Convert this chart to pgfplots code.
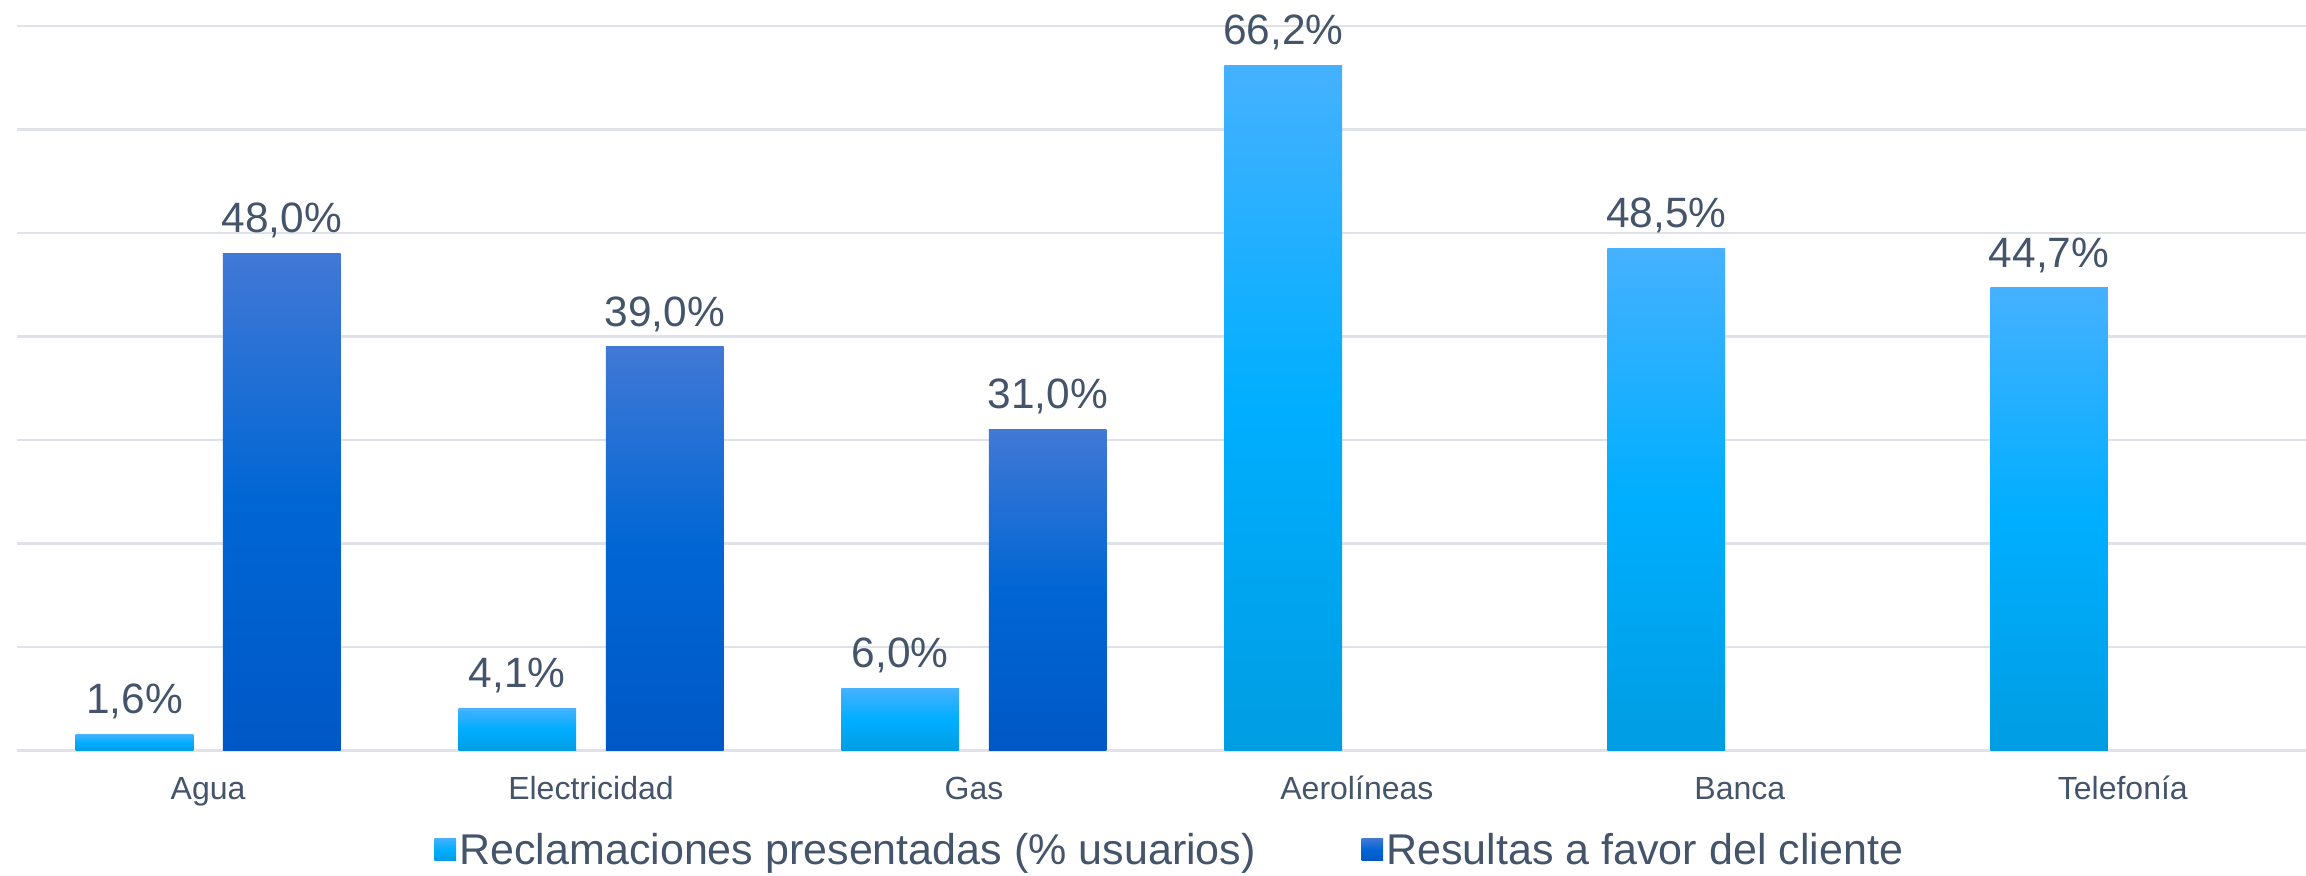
\documentclass[border=0pt]{standalone}
\usepackage{pgfplots}
\pgfplotsset{compat=1.18}
\usepackage{fontspec}
\setmainfont{Liberation Sans}

\definecolor{txt}{HTML}{44546A}
\definecolor{gridc}{HTML}{DFE3E9}
\definecolor{lbtop}{HTML}{45B1FF}
\definecolor{lbmid}{HTML}{00AEFF}
\definecolor{lbbot}{HTML}{009DE2}
\definecolor{dbtop}{HTML}{4178D6}
\definecolor{dbmid}{HTML}{0066D4}
\definecolor{dbbot}{HTML}{0058C6}

% one \addplot per bar, so that every bar gets its own gradient
\pgfplotsset{
  light/.style={draw=none, top color=lbtop, bottom color=lbbot, middle color=lbmid, bar shift=-18.4pt},
  dark/.style={draw=none, top color=dbtop, bottom color=dbbot, middle color=dbmid, bar shift=18.4pt},
}

\begin{document}
\begin{tikzpicture}
\begin{axis}[
  name=ax,
  scale only axis,
  width=571.8pt, height=181pt,
  xmin=-0.5, xmax=5.478,
  ymin=0, ymax=70,
  ytick={0,10,...,70},
  yticklabels={},
  ymajorgrids,
  grid style={gridc, line width=0.6pt},
  axis line style={draw=none},
  major tick length=0pt,
  xtick={0,...,5},
  xticklabels={Agua,Electricidad,Gas,Aerolíneas,Banca,Telefonía},
  xticklabel style={font=\fontsize{8}{9.6}\selectfont, text=txt, anchor=base, yshift=-12.1pt},
  ybar, bar width=29.4pt,
  nodes near coords={\pgfmathprintnumber[fixed,fixed zerofill,precision=1,use comma,assume math mode=true]{\pgfplotspointmeta}\%},
  every node near coord/.append style={font=\fontsize{10.6}{12.6}\selectfont, text=txt, inner sep=0pt, text depth=0pt, yshift=5pt},
  legend columns=2,
  legend style={at={(0.504,0)}, anchor=south, yshift=-32.2pt, draw=none, fill=none, inner sep=0pt,
    font=\fontsize{10.75}{12.6}\selectfont, text=txt, nodes={inner xsep=0.8pt},
    /tikz/every even column/.append style={column sep=25.6pt}},
  legend image code/.code={\path[#1, draw=none] (0pt,-2.1pt) rectangle (5.4pt,3.4pt);},
]
\addlegendimage{light}
\addlegendimage{dark}
% Reclamaciones presentadas (% usuarios)
\addplot[light, forget plot] coordinates {(0,1.6)};
\addplot[light, forget plot] coordinates {(1,4.1)};
\addplot[light, forget plot] coordinates {(2,6.0)};
\addplot[light, forget plot] coordinates {(3,66.2)};
\addplot[light, forget plot] coordinates {(4,48.5)};
\addplot[light, forget plot] coordinates {(5,44.7)};
% Resultas a favor del cliente
\addplot[dark, forget plot] coordinates {(0,48.0)};
\addplot[dark, forget plot] coordinates {(1,39.0)};
\addplot[dark, forget plot] coordinates {(2,31.0)};
\legend{Reclamaciones presentadas (\% usuarios), Resultas a favor del cliente}
\end{axis}
\pgfresetboundingbox
\path (ax.south west) ++(-4.15pt,-31.1pt) rectangle ++(576pt,218.6pt);
\end{tikzpicture}
\end{document}
